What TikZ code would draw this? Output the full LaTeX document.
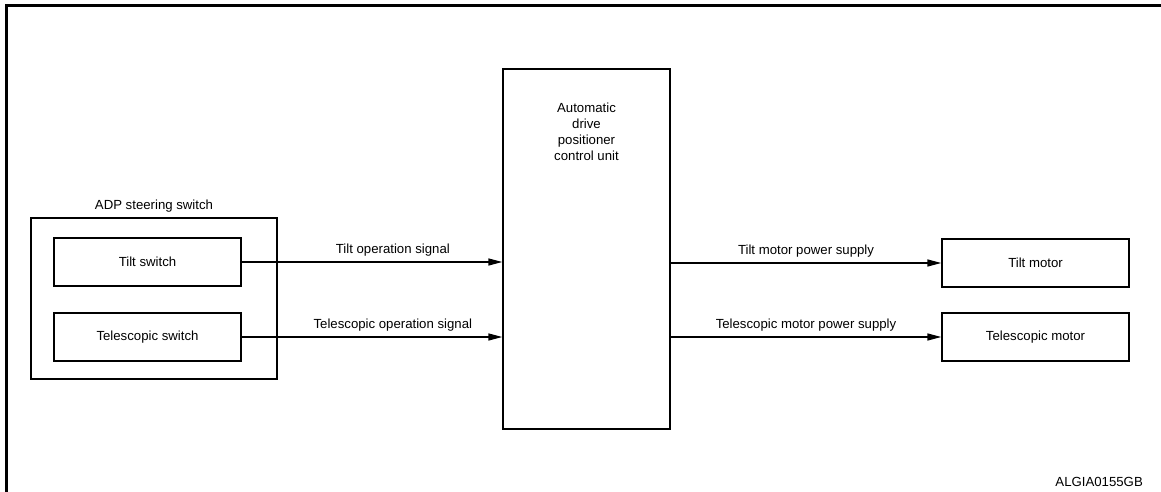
\documentclass[tikz,border=0pt]{standalone}
\usepackage{fontspec}
\setmainfont{Liberation Sans}
\usetikzlibrary{arrows.meta,positioning}

\begin{document}
\begin{tikzpicture}[x=1pt,y=-1pt,
			blk/.style={rectangle, draw, line width=1.4pt, minimum width=187pt, minimum height=48pt, inner sep=2pt, font=\fontsize{13.2}{16}\selectfont},
			sig/.style={-{Triangle[length=14pt,width=7pt]}, line width=1.4pt},
			siglab/.style={above, inner sep=3pt, yshift=2.5pt, font=\fontsize{13.2}{16}\selectfont},
			txt/.style={font=\fontsize{13.2}{16}\selectfont, inner sep=3pt, align=center}
				]
			\useasboundingbox (0,0) rectangle (1161,492);
			\draw[line width=3pt] (6.5,492) -- (6.5,5.5) -- (1161,5.5);

			% control unit
			\node[rectangle, draw, line width=1.4pt, minimum width=167pt, minimum height=360pt] at (586.5,249) (ecu) {};
			\node[txt, below=31pt of ecu.north] (ecutxt) {Automatic\\drive\\positioner\\control unit};

			% switches
			\node[rectangle, draw, line width=1.4pt, minimum width=246pt, minimum height=161pt] at (154,298.5) (adp) {};
			\node[txt, above=2pt of adp.north] (adptxt) {ADP steering switch};
			\node[blk] at (147.5,262) (tsw) {Tilt switch};
			\node[blk] at (147.5,337) (csw) {Telescopic switch};

			% motors
			\node[blk] at (1035.5,263) (tmot) {Tilt motor};
			\node[blk] at (1035.5,337) (cmot) {Telescopic motor};

			\draw[sig] (tsw.east) -- node[siglab, pos=0.58] {Tilt operation signal} (tsw.east -| ecu.west);
			\draw[sig] (csw.east) -- node[siglab, pos=0.58] {Telescopic operation signal} (csw.east -| ecu.west);
			\draw[sig] (tmot.west -| ecu.east) -- node[siglab] {Tilt motor power supply} (tmot.west);
			\draw[sig] (cmot.west -| ecu.east) -- node[siglab] {Telescopic motor power supply} (cmot.west);

			\node[txt, anchor=east] at (1146,482) (code) {ALGIA0155GB};
	\end{tikzpicture}
\end{document}
